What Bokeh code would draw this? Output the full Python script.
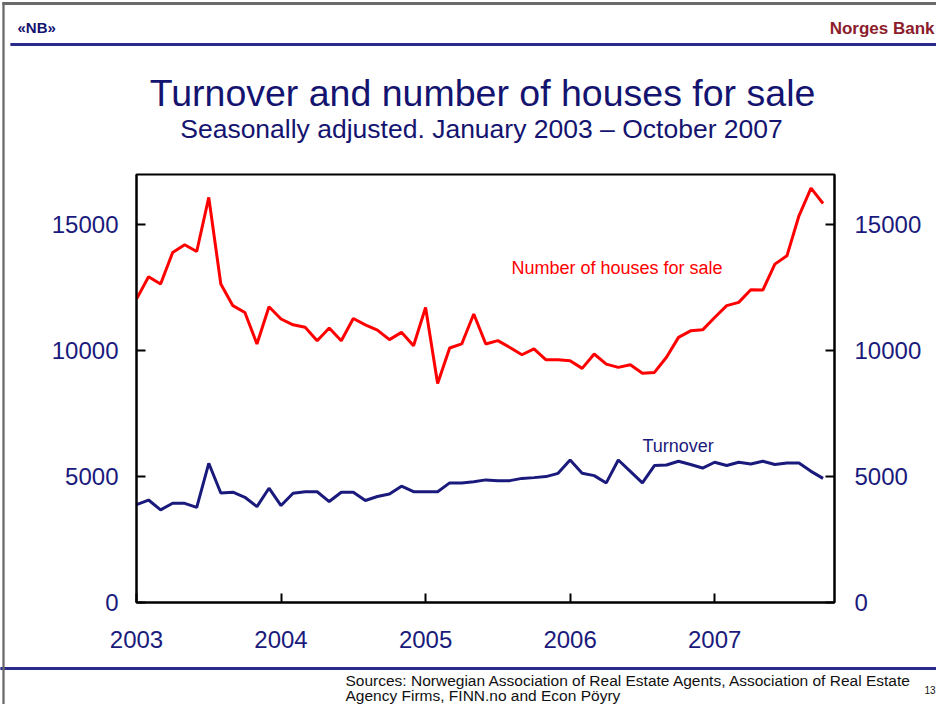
from bokeh.plotting import figure
from bokeh.models import Label, LinearAxis, FixedTicker, Range1d
from bokeh.embed import file_html
from bokeh.resources import INLINE

# ---------------- data ----------------
year_ticks = [0, 12, 24, 36, 48]
year_labels = ["2003", "2004", "2005", "2006", "2007"]
y_ticks = [0, 5000, 10000, 15000]

# month index 0 = January 2003 ... 57 = October 2007
houses_for_sale = [
    12050, 12940, 12650, 13900, 14210, 13940, 16090, 12650, 11790, 11520,
    10270, 11750, 11260, 11030, 10930, 10400, 10900, 10400, 11280, 11030,
    10820, 10440, 10730, 10200, 11720, 8700, 10110, 10270, 11460, 10270,
    10400, 10130, 9840, 10070, 9640, 9640, 9600, 9300, 9870, 9470,
    9340, 9440, 9110, 9140, 9740, 10530, 10790, 10830, 11320, 11790,
    11920, 12420, 12410, 13440, 13770, 15360, 16460, 15850,
]
turnover = [
    3890, 4070, 3680, 3940, 3940, 3780, 5530, 4350, 4380, 4180,
    3810, 4540, 3850, 4340, 4400, 4400, 4010, 4380, 4380, 4050,
    4210, 4310, 4620, 4400, 4400, 4400, 4750, 4750, 4800, 4870,
    4840, 4840, 4930, 4960, 5000, 5130, 5660, 5130, 5040, 4750,
    5660, 5210, 4750, 5440, 5460, 5610, 5480, 5340, 5570, 5440,
    5570, 5500, 5610, 5480, 5540, 5540, 5210, 4930,
]
months = list(range(len(houses_for_sale)))

# ---------------- layout constants ----------------
W, H = 936, 704
FL, FR, FT, FB = 136, 102, 174, 102
FW, FH = W - FL - FR, H - FT - FB
X_END, Y_END = 57.95, 17000

NAVY = "#1a1a7c"
TEXT_NAVY = "#141470"
RED = "#ff0000"
LINE_BLUE = "#2a2a8a"
FONT = "Liberation Sans"

p = figure(width=W, height=H, output_backend="svg", toolbar_location=None,
           x_range=Range1d(0, X_END), y_range=Range1d(0, Y_END),
           min_border_left=FL, min_border_right=FR,
           min_border_top=FT, min_border_bottom=FB)
p.grid.visible = False
p.outline_line_color = "black"
p.outline_line_width = 2
p.background_fill_color = "white"
p.border_fill_color = "white"

p.xaxis.ticker = FixedTicker(ticks=year_ticks)
p.xaxis.major_label_overrides = {t: l for t, l in zip(year_ticks, year_labels)}
p.yaxis.ticker = FixedTicker(ticks=y_ticks)
right = LinearAxis(ticker=FixedTicker(ticks=y_ticks))
p.add_layout(right, "right")

for ax in p.xaxis + p.yaxis + [right]:
    ax.axis_line_color = "black"
    ax.axis_line_width = 2
    ax.major_tick_line_color = "black"
    ax.major_tick_line_width = 2
    ax.major_tick_in = 9
    ax.major_tick_out = 0
    ax.minor_tick_line_color = None
    ax.major_label_text_font = FONT
    ax.major_label_text_font_size = "24px"
    ax.major_label_text_color = NAVY
p.xaxis.major_label_standoff = 28
p.yaxis.major_label_standoff = 18
right.major_label_standoff = 20
p.yaxis.formatter.use_scientific = False
right.formatter.use_scientific = False

p.line(months, houses_for_sale, line_color=RED, line_width=3)
p.line(months, turnover, line_color=NAVY, line_width=3)


def dx(page_x):
    return (page_x - FL) / FW * X_END


def dy(page_y):
    return (FT + FH - page_y) / FH * Y_END


p.add_layout(Label(x=dx(511), y=dy(267), text="Number of houses for sale",
                   text_font=FONT, text_font_size="18px", text_color=RED,
                   text_baseline="middle", text_align="left"))
p.add_layout(Label(x=dx(642), y=dy(445), text="Turnover",
                   text_font=FONT, text_font_size="18px", text_color=NAVY,
                   text_baseline="middle", text_align="left"))


def canvas_text(side, x, y, text, size, color, align="left", baseline="middle", bold=False):
    p.add_layout(Label(x=x, y=y, x_units="canvas", y_units="canvas", text=text,
                       text_font=FONT, text_font_size=size, text_color=color,
                       text_font_style="bold" if bold else "normal",
                       text_align=align, text_baseline=baseline), side)


def canvas_rule(side, x0, x1, y0, y1, color):
    """A thin filled rule drawn as the background of an empty label."""
    hw = int(round((x1 - x0) / 2))
    hh = int(round((y1 - y0) / 2))
    p.add_layout(Label(x=(x0 + x1) / 2, y=(y0 + y1) / 2, x_units="canvas", y_units="canvas",
                       text=" ", text_font_size="1px", text_align="center",
                       text_baseline="middle", background_fill_color=color,
                       padding=dict(left=hw, right=hw, top=hh, bottom=hh)), side)


# slide frame (top and left edges)
canvas_rule("above", 2, 936, 2, 4, "#6a6a6a")
canvas_rule("left", 2, 4, 2, 704, "#6a6a6a")

# header / titles
canvas_text("above", 17, 27, "\u00abNB\u00bb", "15px", TEXT_NAVY, bold=True)
canvas_text("above", 934, 28, "Norges Bank", "17px", "#8c1c2c", align="right", bold=True)
canvas_rule("above", 10, 936, 43, 45, LINE_BLUE)
canvas_text("above", 482, 92, "Turnover and number of houses for sale", "37.5px", TEXT_NAVY,
            align="center", baseline="alphabetic")
canvas_text("above", 481, 128, "Seasonally adjusted. January 2003 \u2013 October 2007", "26.5px",
            TEXT_NAVY, align="center", baseline="alphabetic")

# footer
canvas_rule("below", 0, 936, 667, 669, LINE_BLUE)
canvas_text("below", 345, 680,
            "Sources: Norwegian Association of Real Estate Agents, Association of Real Estate",
            "15.5px", "#111111")
canvas_text("below", 345, 695, "Agency Firms, FINN.no and Econ P\u00f6yry", "15.5px", "#111111")
canvas_text("right", 935, 689, "13", "10px", "#111111", align="right")

open("out.html", "w").write(file_html(p, INLINE))
